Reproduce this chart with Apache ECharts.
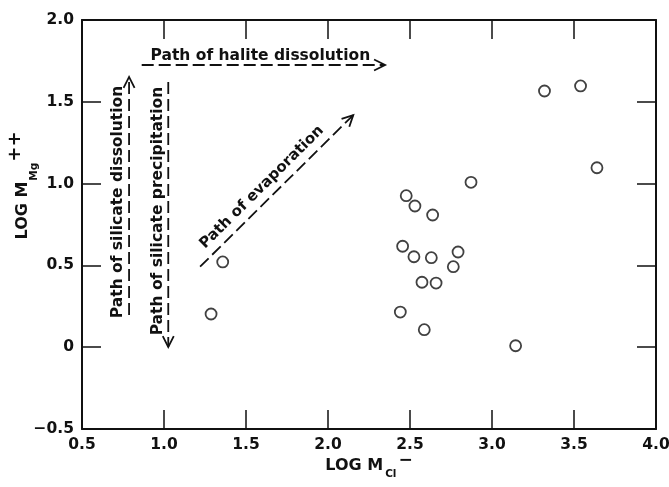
<!DOCTYPE html>
<html><head><meta charset="utf-8">
<script src="https://cdn.jsdelivr.net/npm/echarts@6/dist/echarts.min.js"></script>
<style>html,body{margin:0;padding:0;background:#fff}#c{width:669px;height:487px}</style>
</head><body><div id="c"></div>
<script>
// ---- data ----
const xTickLabels = ['0.5','1.0','1.5','2.0','2.5','3.0','3.5','4.0'];
const yTickLabels = ['\u22120.5','0','0.5','1.0','1.5','2.0'];
const logCl = [1.287,1.358,2.477,2.530,2.638,2.872,2.455,2.524,2.630,2.793,2.764,2.573,2.659,2.441,2.587,3.144,3.320,3.540,3.640];
const logMg = [0.203,0.521,0.926,0.863,0.808,1.008,0.617,0.553,0.547,0.582,0.492,0.397,0.392,0.215,0.107,0.009,1.566,1.597,1.097];
const pathLabels = ['Path of halite dissolution','Path of silicate dissolution','Path of silicate precipitation','Path of evaporation'];
const pathStartX = [0.864, 0.787, 1.026, 1.220];
const pathStartY = [1.725, 0.197, 1.621, 0.492];
const pathEndX   = [2.348, 0.787, 1.026, 2.154];
const pathEndY   = [1.725, 1.652, 0.001, 1.419];

// ---- styling (pixels) ----
const labelGap = [9, 11, 10, 13];
const labelShift = [-3, -6, 3.5, -8];
const labelSize = [15.5, 15.5, 15.5, 15];
const INK = '#111';
const FONT = 'DejaVu Sans';

const chart = echarts.init(document.getElementById('c'), null, {renderer:'canvas'});

const pathData = pathLabels.map((n,i)=>[pathStartX[i], pathStartY[i], pathEndX[i], pathEndY[i]]);
const pointData = logCl.map((x,i)=>[x, logMg[i]]);

function renderPath(params, api) {
  const i = params.dataIndex;
  const p1 = api.coord([api.value(0), api.value(1)]);
  const p2 = api.coord([api.value(2), api.value(3)]);
  const dx = p2[0]-p1[0], dy = p2[1]-p1[1];
  const len = Math.hypot(dx, dy);
  const ux = dx/len, uy = dy/len;
  let rx = ux, ry = uy;
  if (rx < -1e-6 || (Math.abs(rx) < 1e-6 && ry > 0)) { rx = -rx; ry = -ry; }
  const nx = ry, ny = -rx;
  const mx = (p1[0]+p2[0])/2, my = (p1[1]+p2[1])/2;
  const tx = mx + nx*labelGap[i] + rx*labelShift[i];
  const ty = my + ny*labelGap[i] + ry*labelShift[i];
  const AL = 11, AW = 5.5;
  const bx = p2[0]-ux*AL, by = p2[1]-uy*AL;
  const px = -uy, py = ux;
  return {type:'group', children:[
    {type:'line', shape:{x1:p1[0], y1:p1[1], x2:p2[0], y2:p2[1]},
      style:{stroke:INK, lineWidth:1.8, lineDash:[12,5], fill:null}},
    {type:'polyline', shape:{points:[[bx+px*AW, by+py*AW],[p2[0],p2[1]],[bx-px*AW, by-py*AW]]},
      style:{stroke:INK, lineWidth:1.8, fill:null}},
    {type:'text', x:tx, y:ty, rotation:Math.atan2(-ry, rx),
      style:{text:pathLabels[i], fontSize:labelSize[i], fontWeight:'bold', fontFamily:FONT, fill:INK, align:'center', verticalAlign:'middle'}}
  ]};
}

const axisLine = {show:true, onZero:false, lineStyle:{color:INK, width:2}};
const axisTick = {show:true, inside:true, length:19, lineStyle:{color:INK, width:1.5}};

const option = {
  animation:false,
  backgroundColor:'#fff',
  grid:{left:82, right:13, top:20, bottom:58, containLabel:false, outerBoundsMode:'none'},
  xAxis:[{
    type:'value', min:0.5, max:4.0, interval:0.5, position:'bottom',
    axisLine, axisTick, splitLine:{show:false},
    axisLabel:{color:INK, fontSize:15.5, fontWeight:'bold', fontFamily:FONT, margin:8,
      formatter:(v,idx)=>xTickLabels[Math.round((v-0.5)/0.5)]},
    name:'{b|LOG M}{s|Cl}{p|\u2212}', nameLocation:'middle', nameGap:23, nameMoveOverlap:false,
    nameTextStyle:{color:INK, fontFamily:FONT, rich:{
      b:{fontSize:16, fontWeight:'bold', fontFamily:FONT, color:INK, lineHeight:28, verticalAlign:'middle'},
      s:{fontSize:10.5, fontWeight:'bold', fontFamily:FONT, color:INK, lineHeight:28, verticalAlign:'bottom', padding:[0,2,0,2]},
      p:{fontSize:17, fontWeight:'bold', fontFamily:FONT, color:INK, lineHeight:28, verticalAlign:'top'}}}
  },{
    type:'value', min:0.5, max:4.0, interval:0.5, position:'top',
    axisLine, axisTick, splitLine:{show:false}, axisLabel:{show:false}
  }],
  yAxis:[{
    type:'value', min:-0.5, max:2.0, interval:0.5, position:'left',
    axisLine, axisTick, splitLine:{show:false},
    axisLabel:{color:INK, fontSize:15.5, fontWeight:'bold', fontFamily:FONT, margin:8,
      formatter:(v)=>yTickLabels[Math.round((v+0.5)/0.5)]},
    name:'{b|LOG M}{s|Mg}{p|++}', nameLocation:'middle', nameGap:42, nameMoveOverlap:false,
    nameTextStyle:{color:INK, fontFamily:FONT, padding:[0,0,0,78], rich:{
      b:{fontSize:16, fontWeight:'bold', fontFamily:FONT, color:INK, lineHeight:34, verticalAlign:'middle'},
      s:{fontSize:10.5, fontWeight:'bold', fontFamily:FONT, color:INK, lineHeight:34, verticalAlign:'bottom', padding:[0,1,0,1]},
      p:{fontSize:18, fontWeight:'bold', fontFamily:FONT, color:INK, lineHeight:34, verticalAlign:'top'}}}
  },{
    type:'value', min:-0.5, max:2.0, interval:0.5, position:'right',
    axisLine, axisTick, splitLine:{show:false}, axisLabel:{show:false}
  }],
  series:[{
    type:'scatter', name:'samples', xAxisIndex:0, yAxisIndex:0,
    data:pointData, symbol:'circle', symbolSize:11,
    itemStyle:{color:'#fff', borderColor:INK, borderWidth:1.8},
    silent:true
  },{
    type:'custom', name:'paths', xAxisIndex:0, yAxisIndex:0,
    data:pathData, encode:{x:[0,2], y:[1,3]}, clip:false,
    renderItem:renderPath, silent:true
  }]
};
chart.setOption(option);
</script></body></html>
